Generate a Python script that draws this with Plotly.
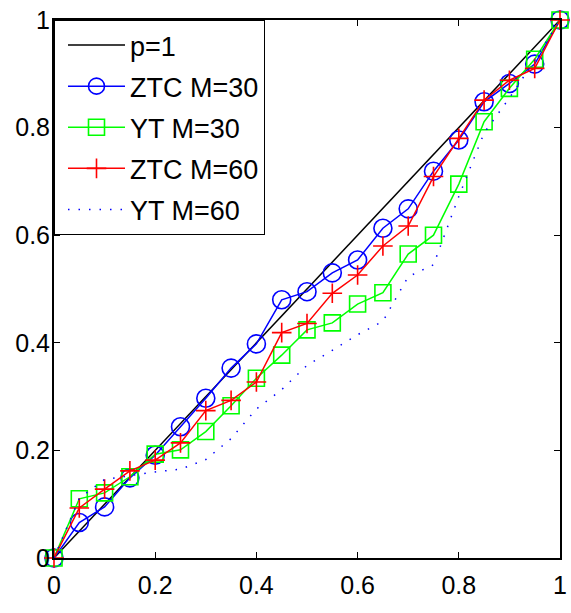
import plotly.graph_objects as go

x_vals = [0, 0.05, 0.1, 0.15, 0.2, 0.25, 0.3, 0.35, 0.4, 0.45, 0.5,
          0.55, 0.6, 0.65, 0.7, 0.75, 0.8, 0.85, 0.9, 0.95, 1]

p1_x = [0, 1]
p1_y = [0, 1]

ztc30 = [0, 0.066, 0.095, 0.149, 0.191, 0.244, 0.297, 0.353, 0.398, 0.480, 0.495,
         0.530, 0.554, 0.613, 0.649, 0.719, 0.777, 0.848, 0.882, 0.918, 1]
yt30 = [0, 0.110, 0.121, 0.151, 0.193, 0.201, 0.235, 0.283, 0.334, 0.377, 0.424,
        0.437, 0.472, 0.493, 0.565, 0.600, 0.695, 0.811, 0.873, 0.927, 1]
ztc60 = [0, 0.093, 0.128, 0.162, 0.182, 0.214, 0.274, 0.293, 0.327, 0.419, 0.436,
         0.492, 0.526, 0.580, 0.617, 0.709, 0.780, 0.851, 0.888, 0.910, 1]
yt60 = [0, 0.111, 0.146, 0.153, 0.160, 0.165, 0.183, 0.222, 0.277, 0.313, 0.358,
        0.386, 0.415, 0.440, 0.523, 0.545, 0.672, 0.790, 0.855, 0.925, 1]

tick_vals = [0, 0.2, 0.4, 0.6, 0.8, 1]
tick_text = ["0", "0.2", "0.4", "0.6", "0.8", "1"]

FONT = "Liberation Sans, Arial, sans-serif"

fig = go.Figure()
fig.add_trace(go.Scatter(x=p1_x, y=p1_y, mode="lines", name="p=1", legendgroup="a",
                         line=dict(color="black", width=1.5), cliponaxis=False))
fig.add_trace(go.Scatter(x=x_vals, y=ztc30, mode="lines+markers", name="ZTC M=30",
                         legendgroup="b",
                         line=dict(color="#0000ff", width=1.5),
                         marker=dict(symbol="circle-open", size=18, color="#0000ff",
                                     line=dict(width=1.6, color="#0000ff")),
                         cliponaxis=False))
fig.add_trace(go.Scatter(x=x_vals, y=yt30, mode="lines+markers", name="YT M=30",
                         legendgroup="c",
                         line=dict(color="#00ff00", width=1.5),
                         marker=dict(symbol="square-open", size=16, color="#00ff00",
                                     line=dict(width=1.6, color="#00ff00")),
                         cliponaxis=False))
fig.add_trace(go.Scatter(x=x_vals, y=ztc60, mode="lines+markers", name="ZTC M=60",
                         legendgroup="d",
                         line=dict(color="#ff0000", width=1.5),
                         marker=dict(symbol="cross-thin-open", size=14, color="#ff0000",
                                     line=dict(width=1.6, color="#ff0000")),
                         cliponaxis=False))
fig.add_trace(go.Scatter(x=x_vals, y=yt60, mode="lines", name="YT M=60",
                         legendgroup="e",
                         line=dict(color="#0000ff", width=1.5, dash="1.5px,9px"),
                         cliponaxis=False))

axis_common = dict(range=[0, 1], showgrid=False, zeroline=False, showline=True,
                   linecolor="black", linewidth=2, mirror="ticks", ticks="inside",
                   ticklen=6, tickwidth=1, tickcolor="black",
                   tickvals=tick_vals, ticktext=tick_text, automargin=False,
                   tickfont=dict(family=FONT, size=25, color="black"))

fig.update_layout(
    width=571, height=613,
    margin=dict(l=54, r=11, t=20, b=55),
    paper_bgcolor="white", plot_bgcolor="white",
    xaxis=dict(axis_common, ticklabelstandoff=4),
    yaxis=dict(axis_common, ticklabelstandoff=-3),
    legend=dict(x=0, y=1, xanchor="left", yanchor="top",
                bgcolor="white", bordercolor="black", borderwidth=1,
                font=dict(family=FONT, size=27, color="black"),
                itemwidth=57, traceorder="grouped", tracegroupgap=3,
                indentation=8),
    font=dict(family=FONT),
)

# remove the browser's default 8px body margin so the figure fills the window
fig.write_html("out.html", config={"displayModeBar": False},
               post_script="document.body.style.margin='0';")
